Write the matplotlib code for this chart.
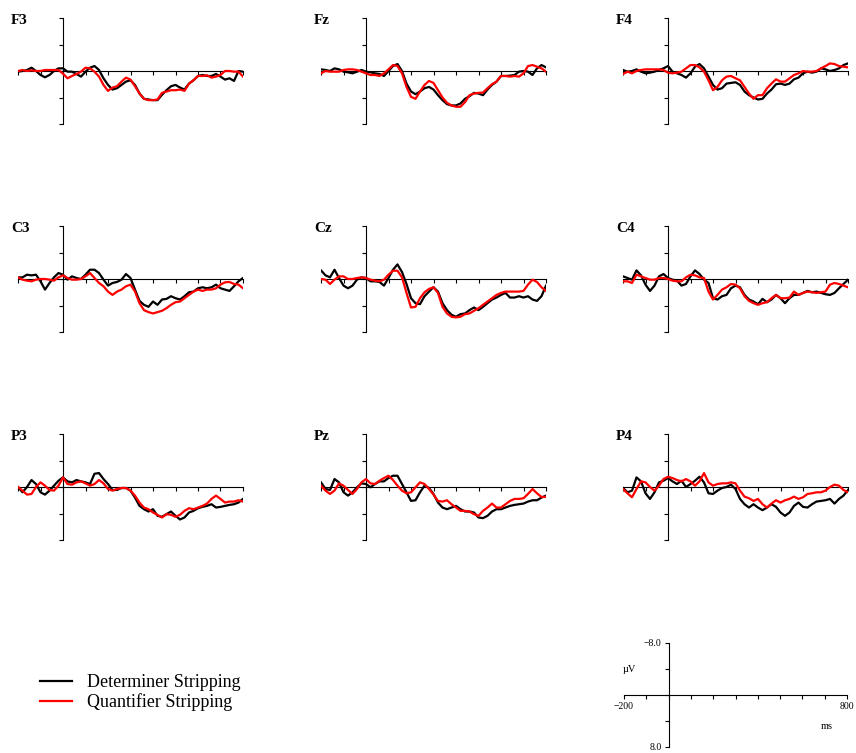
import numpy as np
import matplotlib.pyplot as plt

plt.rcParams['font.family'] = ['Liberation Serif', 'DejaVu Serif']

# 時間軸 (ms)
times = np.arange(-200, 801, 20)

# 電極ごとの波形 (µV), 黒 = Determiner, 赤 = Quantifier
F3_det = [0.1, 0, -0.15, -0.5, 0, 0.6, 0.95, 0.6, 0, -0.4,
          -0.4, 0.1, 0.1, 0.45, 0.85, 0.1, -0.5, -0.75, -0.15, 1.1,
          2.1, 2.8, 2.6, 2.1, 1.6, 1.4, 2.1, 3.4, 4.2, 4.3,
          4.4, 4.4, 3.6, 2.9, 2.3, 2.1, 2.5, 2.8, 1.9, 1.4,
          0.75, 0.6, 0.75, 0.75, 0.45, 0.85, 1.3, 1.1, 1.5, 0, 0.1]
F3_qua = [0, -0.15, 0, -0.1, 0, 0, -0.15, -0.15, -0.15, -0.15,
          0.4, 1.1, 0.75, 0.45, 0.1, -0.5, -0.4, 0.1, 0.85, 2.1,
          3.0, 2.5, 2.3, 1.6, 1.0, 1.3, 2.3, 3.4, 4.2, 4.4,
          4.4, 4.3, 3.3, 3.1, 2.9, 2.9, 2.8, 3.0, 1.9, 1.4,
          0.75, 0.75, 0.65, 1.0, 0.85, 0.6, 0, 0, 0.1, 0.1, 0.85]

Fz_det = [-0.25, -0.15, 0, -0.4, -0.25, 0.1, 0.2, 0.35, 0.1, -0.15,
          0.1, 0.2, 0.35, 0.45, 0.75, 0, -0.75, -1.05, 0, 1.9,
          3.1, 3.5, 3.1, 2.6, 2.4, 2.8, 3.65, 4.4, 5.0, 5.2,
          5.2, 4.9, 4.2, 3.8, 3.3, 3.4, 3.65, 2.8, 2.1, 1.6,
          0.75, 0.75, 0.7, 0.6, 0.1, 0, 0.1, 0.6, -0.4, -0.9, -0.55]
Fz_qua = [0.35, 0, 0.1, 0.1, 0.1, -0.15, -0.25, -0.25, -0.15, 0.1,
          0.35, 0.6, 0.6, 0.75, 0.35, -0.25, -0.9, -0.75, 0.35, 2.4,
          3.9, 4.2, 3.1, 2.1, 1.5, 1.8, 2.9, 4.0, 4.8, 5.2,
          5.4, 5.4, 4.7, 3.65, 3.4, 3.3, 3.25, 2.6, 2.0, 1.6,
          0.75, 0.75, 0.85, 0.75, 0.85, 0.35, -0.75, -0.9, -0.65, -0.4, 0.1]

F4_det = [-0.15, 0.1, 0, -0.25, 0.1, 0.35, 0.25, 0.1, -0.15, -0.4,
          -0.75, 0.1, 0.35, 0.6, 1.0, 0.35, -0.65, -1.05, -0.4, 0.85,
          2.1, 2.8, 2.6, 1.9, 1.8, 1.7, 2.1, 3.1, 3.65, 4.0,
          4.3, 4.2, 3.4, 2.8, 2.0, 1.9, 2.1, 1.9, 1.25, 1.0,
          0.35, 0.1, 0.25, 0.1, -0.4, -0.25, 0, -0.15, -0.4, -0.9, -1.15]
F4_qua = [0.45, 0.1, 0.35, 0, -0.15, -0.25, -0.25, -0.25, -0.25, -0.15,
          0.25, 0.35, 0.25, 0.1, -0.4, -0.9, -0.9, -0.55, 0.1, 1.4,
          2.9, 2.4, 1.4, 0.85, 0.75, 1.1, 1.4, 2.4, 3.4, 4.2,
          3.65, 3.65, 2.6, 1.9, 1.25, 1.6, 1.6, 1.1, 0.6, 0.35,
          0, 0.1, 0.1, 0, -0.4, -0.75, -1.15, -1.05, -0.75, -0.65, -0.55]

C3_det = [-0.25, -0.25, -0.65, -0.55, -0.65, 0.35, 1.6, 0.6, -0.25, -0.9,
          -0.65, 0.1, -0.4, -0.15, 0, -0.65, -1.4, -1.4, -0.9, 0.1,
          1.0, 0.6, 0.45, 0.1, -0.75, -0.15, 1.6, 3.3, 3.9, 4.2,
          3.4, 3.9, 3.1, 3.0, 2.6, 2.9, 3.1, 2.6, 2.0, 1.9,
          1.4, 1.25, 1.4, 1.25, 0.85, 1.4, 1.6, 1.8, 1.1, 0.35, -0.15]
C3_qua = [-0.25, 0.1, 0.25, 0.35, 0.1, 0, 0, 0.1, 0.25, -0.25,
          -0.55, -0.15, 0.1, 0.1, 0, -0.4, -0.9, -0.15, 0.6, 1.1,
          1.9, 2.4, 1.9, 1.6, 1.1, 0.85, 1.9, 3.65, 4.7, 5.0,
          5.2, 5.0, 4.8, 4.4, 3.9, 3.5, 3.4, 2.9, 2.4, 1.9,
          1.6, 1.8, 1.6, 1.6, 1.4, 0.85, 0.5, 0.45, 0.75, 0.85, 1.4]

Cz_det = [-1.3, -0.55, -0.25, -1.4, -0.15, 1.0, 1.4, 1.0, 0.1, -0.25,
          -0.15, 0.35, 0.35, 0.45, 1.0, -0.15, -1.4, -2.2, -1.05, 0.75,
          2.9, 3.65, 3.8, 2.6, 1.9, 1.25, 1.9, 3.65, 4.7, 5.4,
          5.7, 5.3, 5.2, 4.7, 4.3, 4.7, 4.2, 3.65, 3.1, 2.8,
          2.4, 2.1, 2.8, 2.8, 2.6, 2.8, 2.6, 3.1, 3.3, 2.6, 1.0]
Cz_qua = [0, 0.1, 0.75, 0.1, -0.4, -0.4, 0, 0, -0.15, -0.25,
          -0.15, 0.1, 0.25, 0.35, 0.1, -0.65, -1.25, -1.25, -0.25, 2.1,
          4.3, 4.2, 2.9, 2.0, 1.5, 1.25, 2.1, 4.2, 5.2, 5.7,
          5.8, 5.7, 5.3, 5.2, 4.8, 4.4, 3.9, 3.4, 2.9, 2.4,
          2.1, 1.9, 1.9, 1.9, 1.9, 1.8, 0.85, 0.1, 0.45, 1.25, 1.8]

C4_det = [-0.4, -0.15, 0.1, -1.3, -0.55, 0.85, 1.8, 1.0, -0.4, -0.75,
          -0.15, 0.1, 0.25, 1.0, 0.75, -0.4, -1.3, -0.75, 0.1, 0.6,
          2.9, 3.1, 2.6, 2.4, 1.4, 1.0, 1.25, 2.4, 3.1, 3.4,
          3.8, 3.0, 3.5, 3.1, 2.4, 2.9, 3.65, 2.9, 2.4, 2.4,
          2.1, 1.8, 2.0, 1.9, 2.1, 2.3, 2.4, 2.1, 1.4, 0.75, 0.1]
C4_qua = [0.35, 0.35, 0.6, -0.65, -0.4, -0.15, 0.1, 0.1, -0.15, -0.15,
          0, 0.25, 0.35, 0.35, -0.25, -0.65, -0.55, -0.25, -0.15, 1.9,
          3.1, 2.4, 1.6, 1.25, 0.75, 0.85, 1.4, 2.6, 3.3, 3.65,
          3.9, 3.65, 3.5, 2.9, 2.4, 2.9, 2.9, 2.8, 1.9, 2.4,
          2.1, 1.9, 2.0, 2.1, 2.0, 1.9, 0.85, 0.6, 0.75, 1.0, 1.25]

P3_det = [0, 0.8, 0, -1.05, -0.45, 0.8, 1.15, 0.55, -0.2, -0.95,
          -1.45, -0.85, -0.7, -1.05, -0.85, -0.7, -0.45, -2.0, -2.1, -1.2,
          -0.45, 0.45, 0.45, 0.15, 0.15, 0.55, 1.6, 2.85, 3.35, 3.7,
          3.35, 4.35, 4.5, 4.1, 3.7, 4.35, 4.9, 4.6, 3.85, 3.6,
          3.2, 3.0, 2.85, 2.6, 3.1, 3.0, 2.85, 2.7, 2.6, 2.35, 1.8]
P3_qua = [0, 0.55, 1.15, 1.05, 0, -0.7, -0.2, 0.45, 0.55, -0.2,
          -1.45, -0.45, -0.35, -0.7, -0.85, -0.55, -0.2, -0.45, -1.05, -0.55,
          0.3, 0.55, 0.3, 0.15, 0.15, 0.55, 1.3, 2.35, 3.1, 3.35,
          3.85, 4.2, 4.6, 4.1, 4.2, 4.5, 4.2, 3.6, 3.2, 3.35,
          3.1, 2.85, 2.5, 1.8, 1.3, 1.8, 2.35, 2.2, 2.2, 2.0, 2.2]

Pz_det = [-0.7, 0.3, 0.45, -1.2, -0.7, 0.8, 1.3, 0.8, 0.05, -0.55,
          -0.45, 0.05, -0.45, -0.85, -0.85, -1.35, -1.7, -1.7, -0.45, 0.8,
          2.1, 2.0, 0.8, -0.2, 0.15, 1.05, 2.35, 3.1, 3.35, 3.1,
          2.85, 3.35, 3.7, 3.7, 3.85, 4.6, 4.7, 4.35, 3.7, 3.35,
          3.35, 3.1, 2.85, 2.7, 2.6, 2.5, 2.2, 2.0, 2.0, 1.6, 1.3]
Pz_qua = [-0.2, 0.55, 1.05, 0.55, -0.55, -0.2, 0.45, 1.05, 0.3, -0.7,
          -1.2, -0.55, -0.45, -0.95, -1.35, -1.7, -1.05, -0.2, 0.55, 0.95,
          0.8, 0.05, -0.7, -0.45, 0.3, 1.15, 2.1, 2.2, 2.0, 2.6,
          3.1, 3.6, 3.6, 3.7, 4.1, 4.35, 3.6, 3.1, 2.5, 3.1,
          3.1, 2.6, 2.1, 1.8, 1.8, 1.7, 1.05, 0.3, 0.95, 1.5, 1.5]

P4_det = [0.15, 0.8, 0.55, -1.45, -0.85, 0.95, 1.8, 0.8, -0.7, -0.95,
          -1.35, -0.85, -0.45, -0.95, 0, -0.45, -0.95, -1.55, -0.7, 0.95,
          1.05, 0.55, 0.15, 0, -0.35, 0.3, 1.8, 2.6, 3.1, 2.6,
          3.1, 3.5, 3.1, 2.6, 3.0, 3.85, 4.35, 3.85, 2.85, 2.35,
          3.0, 3.1, 2.6, 2.2, 2.1, 2.0, 1.8, 2.5, 1.8, 1.3, 0.45]
P4_qua = [0.3, 0.95, 1.55, 0.3, -0.85, -0.7, 0, 0.55, -0.2, -1.2,
          -1.55, -1.35, -1.05, -0.85, -1.2, -0.85, -0.2, -0.85, -2.1, -0.7,
          -0.2, -0.45, -0.55, -0.55, -0.7, -0.55, 0.55, 1.45, 1.7, 2.1,
          1.8, 2.6, 3.1, 2.5, 2.0, 2.35, 2.0, 1.8, 1.45, 1.8,
          1.55, 1.05, 0.95, 0.8, 0.8, 0.55, 0, -0.35, -0.2, 0.45, 0.8]

names = [["F3", "Fz", "F4"], ["C3", "Cz", "C4"], ["P3", "Pz", "P4"]]
det = {"F3": F3_det, "Fz": Fz_det, "F4": F4_det,
       "C3": C3_det, "Cz": Cz_det, "C4": C4_det,
       "P3": P3_det, "Pz": Pz_det, "P4": P4_det}
qua = {"F3": F3_qua, "Fz": Fz_qua, "F4": F4_qua,
       "C3": C3_qua, "Cz": Cz_qua, "C4": C4_qua,
       "P3": P3_qua, "Pz": Pz_qua, "P4": P4_qua}

W, H = 856, 753
fig = plt.figure(figsize=(W / 100, H / 100), dpi=100)

col_left = [18, 321, 623]
row_top = [18, 226, 434]
pw, ph = 225, 106


# 軸の体裁 (0 を通る軸だけ描く)
def style_axes(ax):
    ax.set_xlim(-200, 800)
    ax.set_ylim(8, -8)
    for s in ["top", "right"]:
        ax.spines[s].set_visible(False)
    ax.spines["left"].set_position(("data", 0))
    ax.spines["bottom"].set_position(("data", 0))
    ax.spines["left"].set_linewidth(0.8)
    ax.spines["bottom"].set_linewidth(0.8)
    ax.set_xticks(np.arange(-200, 801, 100))
    ax.set_yticks([-8, -4, 0, 4, 8])
    ax.tick_params(direction="out", length=3, width=0.8, color="black")
    ax.patch.set_visible(False)


lines = None
for r in range(3):
    for c in range(3):
        nm = names[r][c]
        left = col_left[c] / W
        bottom = 1 - (row_top[r] + ph) / H
        ax = fig.add_axes([left, bottom, pw / W, ph / H])
        style_axes(ax)
        ax.set_xticklabels([])
        ax.set_yticklabels([])
        l1, = ax.plot(times, det[nm], color="black", lw=1.6, zorder=3)
        l2, = ax.plot(times, qua[nm], color="red", lw=1.6, zorder=4)
        lines = [l1, l2]
        fig.text((col_left[c] - 7) / W, 1 - (row_top[r] + 6) / H, nm,
                 fontsize=11, fontweight="bold", ha="left", va="baseline")

# スケール用の軸
ax = fig.add_axes([624 / W, 1 - (643 + 104) / H, 223 / W, 104 / H])
style_axes(ax)
ax.set_xticklabels(["\u2212200"] + [""] * 9 + ["800"], fontsize=7)
ax.set_yticklabels(["\u22128.0", "", "", "", "8.0"], fontsize=7)
ax.tick_params(pad=2)
ax.text(-175, -4, "\u00b5V", fontsize=7.5, ha="center", va="center")
ax.text(710, 4.9, "ms", fontsize=7.5, ha="center", va="center")

fig.legend(lines, ["Determiner Stripping", "Quantifier Stripping"],
           loc="upper left", bbox_to_anchor=(40 / W, 1 - 674 / H),
           frameon=False, fontsize=13, handlelength=1.75, handletextpad=0.85,
           labelspacing=0.12, borderpad=0, borderaxespad=0)

plt.savefig("out.png", dpi=100)
